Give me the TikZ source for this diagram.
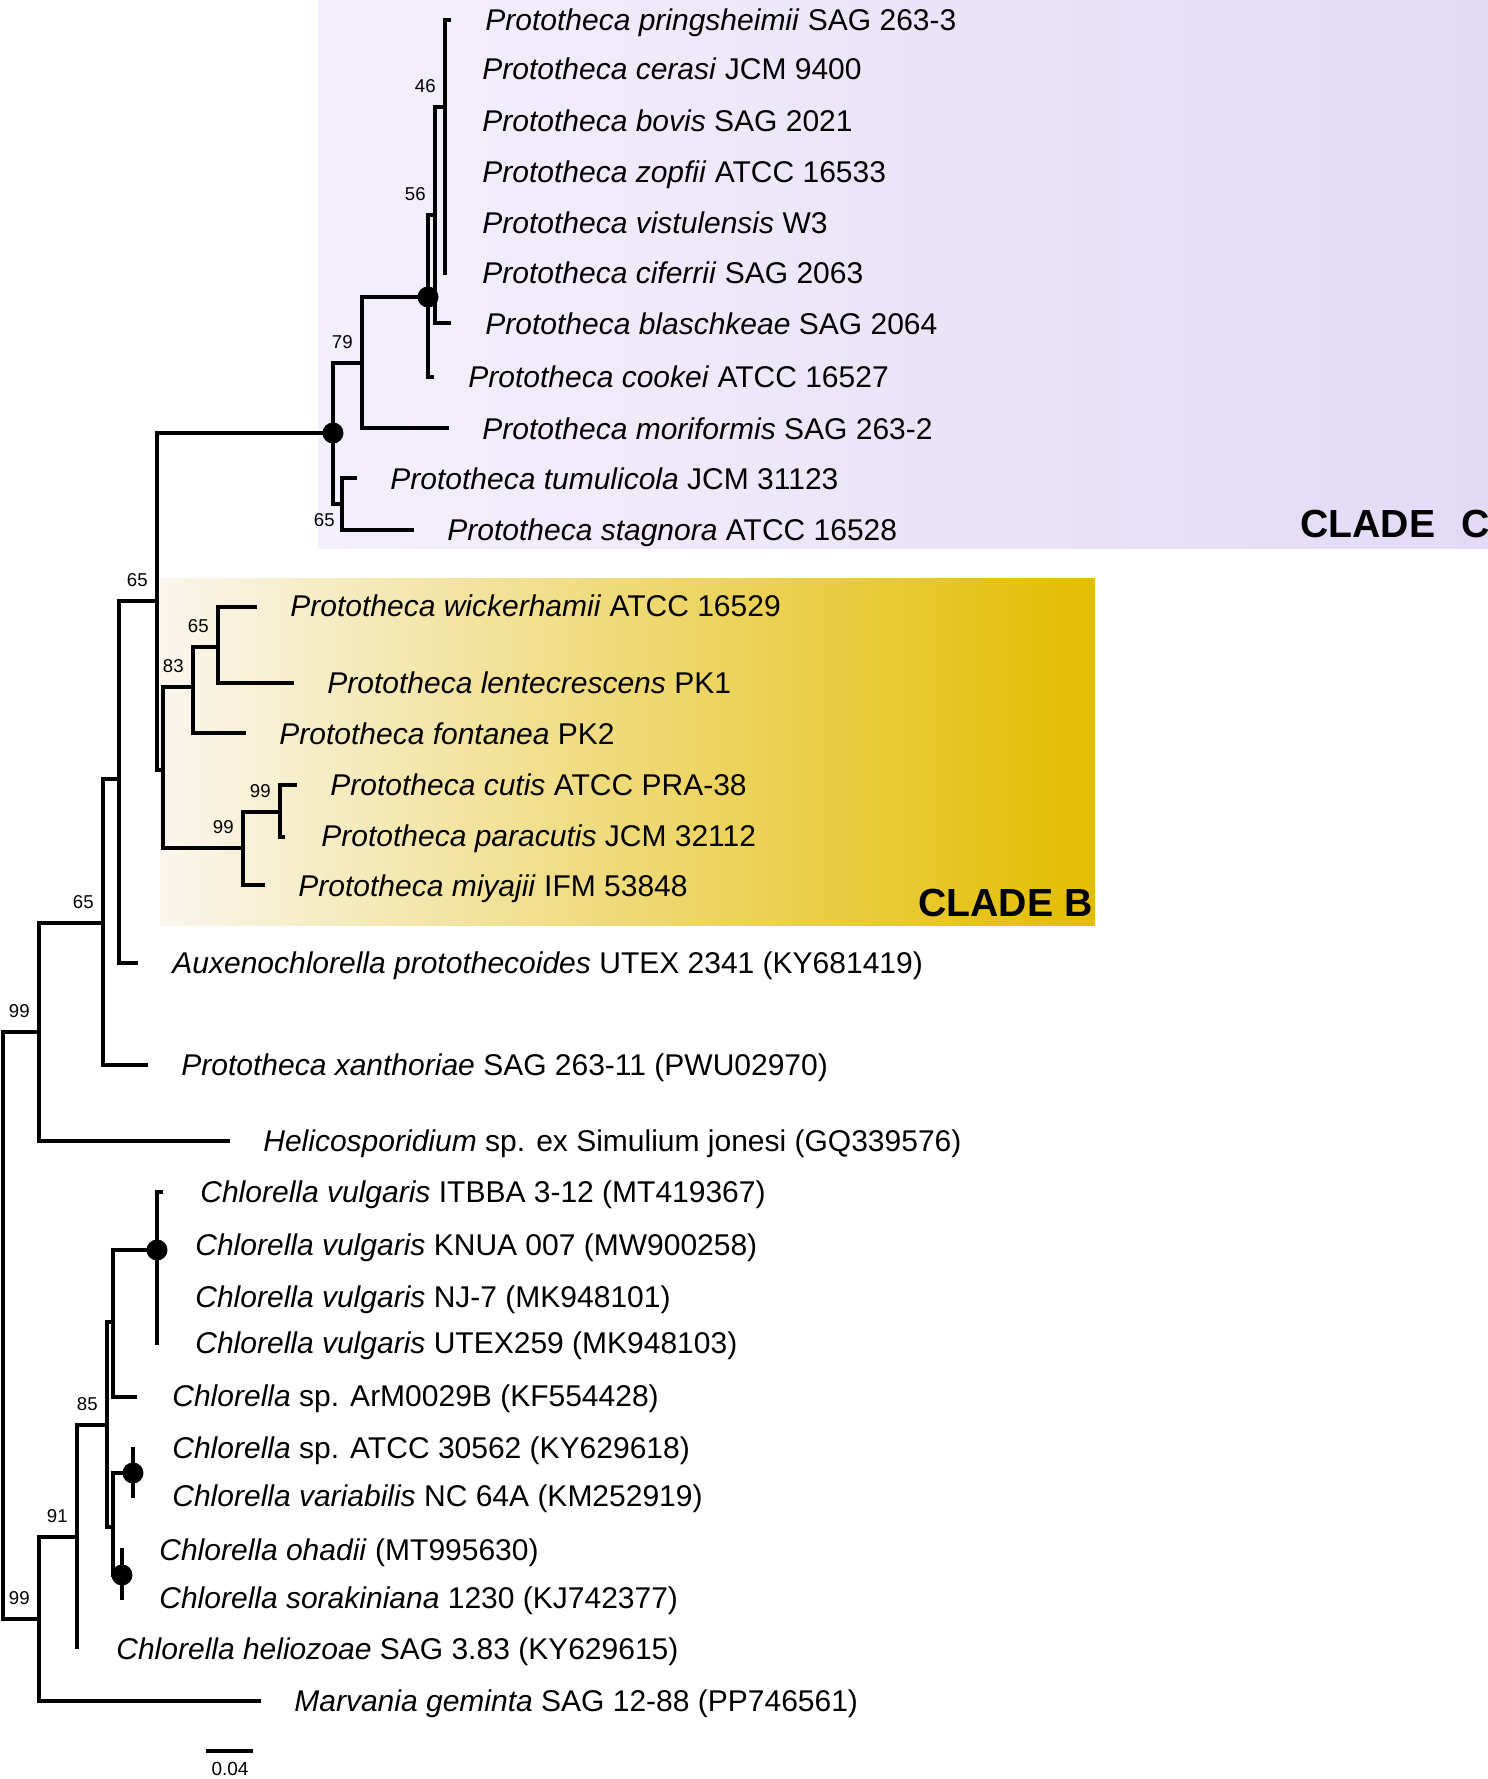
\documentclass[tikz,border=0pt]{standalone}
\usepackage{fontspec}
\setmainfont{Liberation Sans}
\usepackage{tikz}
\usetikzlibrary{positioning}

\definecolor{cladeCa}{RGB}{244,239,252}
\definecolor{cladeCb}{RGB}{227,218,246}
\definecolor{cladeBa}{RGB}{250,246,238}
\definecolor{cladeBm}{RGB}{242,228,192}
\definecolor{cladeBb}{RGB}{227,189,0}

\begin{document}
\begin{tikzpicture}[
    x=0.5pt, y=-0.5pt,
    br/.style={line width=2.2pt, line join=miter},
    dot/.style={circle, fill=black, inner sep=0pt, minimum size=10.5pt},
    leaf/.style={anchor=base west, inner sep=0pt, yshift=-5.4pt, font=\fontsize{15}{18}\selectfont},
    bs/.style={anchor=south east, inner sep=0pt, xshift=-4.5pt, yshift=7pt, font=\fontsize{9.3}{11}\selectfont},
    bsb/.style={bs, anchor=north east, xshift=1pt, yshift=-11.5pt},
    clade/.style={anchor=base west, inner sep=0pt, font=\fontsize{19.6}{23}\selectfont\bfseries}
]
    \useasboundingbox (0,0) rectangle (1488,1779);

    % clade backgrounds
    \shade[left color=cladeCa, right color=cladeCb] (318,0) rectangle (1488,548);
    \shade[left color=cladeBa, middle color=cladeBm, right color=cladeBb] (160,578) rectangle (1095,925);
    \node[clade] (cC) at (1300,537) {CLADE\hspace{13pt}C};
    \node[clade] (cB) at (918,916) {CLADE B};

    % tips
    \coordinate (t1) at (451,20);
    \coordinate (t2) at (445,69);
    \coordinate (t3) at (445,121);
    \coordinate (t4) at (445,172);
    \coordinate (t5) at (445,223);
    \coordinate (t6) at (445,275);
    \coordinate (t7) at (451,323);
    \coordinate (t8) at (434,377);
    \coordinate (t9) at (449,428);
    \coordinate (t10) at (357,478);
    \coordinate (t11) at (414,530);
    \coordinate (t12) at (257,607);
    \coordinate (t13) at (294,683);
    \coordinate (t14) at (246,733);
    \coordinate (t15) at (297,785);
    \coordinate (t16) at (285,837);
    \coordinate (t17) at (265,885);
    \coordinate (t18) at (138,963);
    \coordinate (t19) at (148,1065);
    \coordinate (t20) at (230,1141);
    \coordinate (t21) at (163,1192);
    \coordinate (t22) at (157,1245);
    \coordinate (t23) at (157,1297);
    \coordinate (t24) at (157,1345);
    \coordinate (t25) at (137,1397);
    \coordinate (t26) at (133,1447);
    \coordinate (t27) at (133,1498);
    \coordinate (t28) at (122,1548);
    \coordinate (t29) at (122,1600);
    \coordinate (t30) at (77,1649);
    \coordinate (t31) at (261,1701);

    % inner nodes
    \coordinate (n46) at (445,107);
    \coordinate (n56) at (435,215);
    \coordinate (nk) at (428,297);
    \coordinate (n79) at (362,363);
    \coordinate (n65c) at (342,504);
    \coordinate (nC) at (333,433);
    \coordinate (n65b) at (218,647);
    \coordinate (n83) at (193,687);
    \coordinate (n99b) at (280,812);
    \coordinate (n99) at (243,848);
    \coordinate (nE) at (163,770);
    \coordinate (nD) at (157,601);
    \coordinate (nCn) at (119,779);
    \coordinate (nB) at (103,923);
    \coordinate (nA) at (39,1032);
    \coordinate (root) at (3,1325);
    \coordinate (nV) at (157,1250);
    \coordinate (nP1) at (113,1322);
    \coordinate (nW) at (133,1473);
    \coordinate (nY) at (122,1575);
    \coordinate (nP2) at (113,1527);
    \coordinate (n85) at (107,1425);
    \coordinate (n91) at (77,1537);
    \coordinate (nQ) at (39,1619);

    % branches
    \foreach \t in {1,...,6} \draw[br] (n46) |- (t\t);
    \draw[br] (n56) |- (n46) (n56) |- (t7);
    \draw[br] (nk) |- (n56) (nk) |- (t8);
    \draw[br] (n79) |- (nk) (n79) |- (t9);
    \draw[br] (n65c) |- (t10) (n65c) |- (t11);
    \draw[br] (nC) |- (n79) (nC) |- (n65c);
    \draw[br] (n65b) |- (t12) (n65b) |- (t13);
    \draw[br] (n83) |- (n65b) (n83) |- (t14);
    \draw[br] (n99b) |- (t15) (n99b) |- (t16);
    \draw[br] (n99) |- (n99b) (n99) |- (t17);
    \draw[br] (nE) |- (n83) (nE) |- (n99);
    \draw[br] (nD) |- (nC) (nD) |- (nE);
    \draw[br] (nCn) |- (nD) (nCn) |- (t18);
    \draw[br] (nB) |- (nCn) (nB) |- (t19);
    \draw[br] (nA) |- (nB) (nA) |- (t20);
    \draw[br] (root) |- (nA) (root) |- (nQ);
    \foreach \t in {21,...,24} \draw[br] (nV) |- (t\t);
    \draw[br] (nP1) |- (nV) (nP1) |- (t25);
    \draw[br] (nW) |- (t26) (nW) |- (t27);
    \draw[br] (nY) |- (t28) (nY) |- (t29);
    \draw[br] (nP2) |- (nW) (nP2) |- (nY);
    \draw[br] (n85) |- (nP1) (n85) |- (nP2);
    \draw[br] (n91) |- (n85) (n91) |- (t30);
    \draw[br] (nQ) |- (n91) (nQ) |- (t31);

    \node[dot] (dk) at (nk) {};
    \node[dot] (dC) at (nC) {};
    \node[dot] (dV) at (nV) {};
    \node[dot] (dW) at (nW) {};
    \node[dot] (dY) at (nY) {};

    % support values
    \node[bs] (b46) at (n46) {46};
    \node[bs] (b56) at (n56) {56};
    \node[bs] (b79) at (n79) {79};
    \node[bsb] (b65c) at (n65c) {65};
    \node[bs] (b65b) at (n65b) {65};
    \node[bs] (b83) at (n83) {83};
    \node[bs] (b99b) at (n99b) {99};
    \node[bs] (b99) at (n99) {99};
    \node[bs] (b65d) at (nD) {65};
    \node[bs] (b65a) at (nB) {65};
    \node[bs] (b99u) at (nA) {99};
    \node[bs] (b99l) at (nQ) {99};
    \node[bs] (b91) at (n91) {91};
    \node[bs] (b85) at (n85) {85};

    % taxa
    \node[leaf] (l1) at (485,20) {\textit{Prototheca pringsheimii} SAG 263-3};
    \node[leaf] (l2) at (482,69) {\textit{Prototheca cerasi} JCM 9400};
    \node[leaf] (l3) at (482,121) {\textit{Prototheca bovis} SAG 2021};
    \node[leaf] (l4) at (482,172) {\textit{Prototheca zopfii} ATCC 16533};
    \node[leaf] (l5) at (482,223) {\textit{Prototheca vistulensis} W3};
    \node[leaf] (l6) at (482,273) {\textit{Prototheca ciferrii} SAG 2063};
    \node[leaf] (l7) at (485,324) {\textit{Prototheca blaschkeae} SAG 2064};
    \node[leaf] (l8) at (468,377) {\textit{Prototheca cookei} ATCC 16527};
    \node[leaf] (l9) at (482,429) {\textit{Prototheca moriformis} SAG 263-2};
    \node[leaf] (l10) at (390,479) {\textit{Prototheca tumulicola} JCM 31123};
    \node[leaf] (l11) at (447,530) {\textit{Prototheca stagnora} ATCC 16528};
    \node[leaf] (l12) at (290,606) {\textit{Prototheca wickerhamii} ATCC 16529};
    \node[leaf] (l13) at (327,683) {\textit{Prototheca lentecrescens} PK1};
    \node[leaf] (l14) at (279,734) {\textit{Prototheca fontanea} PK2};
    \node[leaf] (l15) at (330,785) {\textit{Prototheca cutis} ATCC PRA-38};
    \node[leaf] (l16) at (321,836) {\textit{Prototheca paracutis} JCM 32112};
    \node[leaf] (l17) at (298,886) {\textit{Prototheca miyajii} IFM 53848};
    \node[leaf] (l18) at (172,963) {\textit{Auxenochlorella protothecoides} UTEX 2341 (KY681419)};
    \node[leaf] (l19) at (181,1065) {\textit{Prototheca xanthoriae} SAG 263-11 (PWU02970)};
    \node[leaf] (l20) at (263,1141) {\textit{Helicosporidium} sp. ex Simulium jonesi (GQ339576)};
    \node[leaf] (l21) at (200,1192) {\textit{Chlorella vulgaris} ITBBA 3-12 (MT419367)};
    \node[leaf] (l22) at (195,1245) {\textit{Chlorella vulgaris} KNUA 007 (MW900258)};
    \node[leaf] (l23) at (195,1297) {\textit{Chlorella vulgaris} NJ-7 (MK948101)};
    \node[leaf] (l24) at (195,1343) {\textit{Chlorella vulgaris} UTEX259 (MK948103)};
    \node[leaf] (l25) at (172,1396) {\textit{Chlorella} sp. ArM0029B (KF554428)};
    \node[leaf] (l26) at (172,1448) {\textit{Chlorella} sp. ATCC 30562 (KY629618)};
    \node[leaf] (l27) at (172,1496) {\textit{Chlorella variabilis} NC 64A (KM252919)};
    \node[leaf] (l28) at (159,1550) {\textit{Chlorella ohadii} (MT995630)};
    \node[leaf] (l29) at (159,1598) {\textit{Chlorella sorakiniana} 1230 (KJ742377)};
    \node[leaf] (l30) at (116,1649) {\textit{Chlorella heliozoae} SAG 3.83 (KY629615)};
    \node[leaf] (l31) at (294,1701) {\textit{Marvania geminta} SAG 12-88 (PP746561)};

    % scale bar
    \coordinate (s0) at (206,1751);
    \coordinate (s1) at (253,1751);
    \draw[br] (s0) -- (s1);
    \node[inner sep=0pt, font=\fontsize{9.5}{11}\selectfont] (sl) at (230,1769) {0.04};
\end{tikzpicture}
\end{document}
